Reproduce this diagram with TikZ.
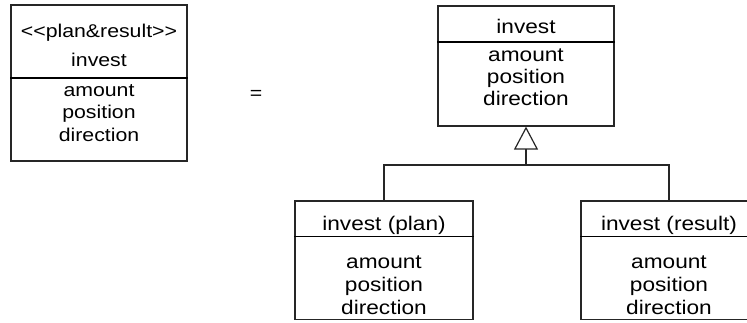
\documentclass[tikz,border=0pt]{standalone}
\usepackage{fontspec}
\setmainfont[FakeStretch=1.15, Ligatures=TeXOff]{Liberation Sans}
\usetikzlibrary{arrows.meta}
\begin{document}
\begin{tikzpicture}[x=1pt,y=-1pt,
  classbox/.style={draw=black!85, line width=1.2pt, rectangle, inner sep=0pt},
  label/.style={anchor=base, inner sep=0pt, font=\fontsize{19.7}{22}\selectfont},
  smalllabel/.style={label, font=\fontsize{18.5}{22}\selectfont},
  divider/.style={draw=black, line width=1.5pt},
  link/.style={draw=black!85, line width=1.2pt},
  gen/.style={-{Triangle[open, width=24pt, length=23pt, line width=1.2pt]}}]
\useasboundingbox (0,0) rectangle (747,322);
\clip (0,0) rectangle (747,322);

% stereotyped class
\node[classbox, minimum width=176, minimum height=156] (lbox) at (99,83) {};
\draw[divider] (lbox.west |- 0,78) -- (lbox.east |- 0,78);
\node[smalllabel] (lstereo) at (99,37.5) {<<plan\&result>>};
\node[smalllabel] (lname) at (99,66.5) {invest};
\node[smalllabel] (la1) at (99,96.5) {amount};
\node[smalllabel] (la2) at (99,118.5) {position};
\node[smalllabel] (la3) at (99,141) {direction};

\node[smalllabel] (eq) at (256,99.5) {=};

% general class
\node[classbox, minimum width=176, minimum height=120] (top) at (526,66) {};
\draw[divider] (top.west |- 0,42) -- (top.east |- 0,42);
\node[label] (tname) at (526,33) {invest};
\node[label] (ta1) at (526,61) {amount};
\node[label] (ta2) at (526,83.5) {position};
\node[label] (ta3) at (526,105.5) {direction};

% plan class
\node[classbox, minimum width=178, minimum height=118.5] (plan) at (384,260.25) {};
\draw[divider] (plan.west |- 0,236.7) -- (plan.east |- 0,236.7);
\node[label] (pname) at (384,230) {invest (plan)};
\node[label] (pa1) at (384,268.5) {amount};
\node[label] (pa2) at (384,291.5) {position};
\node[label] (pa3) at (384,314) {direction};

% result class
\node[classbox, minimum width=176, minimum height=118.5] (res) at (669,260.25) {};
\draw[divider] (res.west |- 0,236.7) -- (res.east |- 0,236.7);
\node[label] (rname) at (669,230) {invest (result)};
\node[label] (ra1) at (669,268.5) {amount};
\node[label] (ra2) at (669,291.5) {position};
\node[label] (ra3) at (669,314) {direction};

% generalization
\coordinate (join) at (526,165);
\draw[link] (plan.north) |- (join) -| (res.north);
\draw[link, gen] (join) -- (top.south);
\end{tikzpicture}
\end{document}
